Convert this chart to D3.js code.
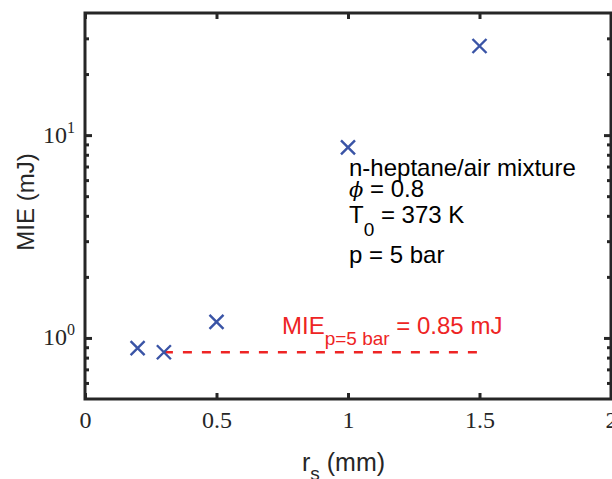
<!DOCTYPE html>
<html>
<head>
<meta charset="utf-8">
<script src="https://cdn.jsdelivr.net/npm/d3@7"></script>
<style>
  body { margin: 0; background: #fff; }
  svg { display: block; }
</style>
</head>
<body>
<svg id="chart" width="612" height="479"></svg>
<script>
// Minimum ignition energy versus source radius
const radii = [0.2, 0.3, 0.5, 1.0, 1.5];
const mieValues = [0.89, 0.85, 1.2, 8.7, 27.5];
const mieReference = 0.85;
const referenceSpan = [0.3, 1.5];

const xTickValues = [0, 0.5, 1, 1.5, 2];
const xTickLabels = ["0", "0.5", "1", "1.5", "2"];
const yMajorTicks = [1, 10];
const yMajorExponents = ["0", "1"];
const yMinorTicks = [0.6, 0.7, 0.8, 0.9, 2, 3, 4, 5, 6, 7, 8, 9, 20, 30];

const svg = d3.select("#chart");
const frame = { left: 85, right: 611, top: 13, bottom: 399 };
const axisColor = "#262626";
const markerColor = "#3a54a6";
const refColor = "#ee2424";
const sans = "'Liberation Sans', Arial, Helvetica, sans-serif";
const serif = "'Liberation Serif', 'Times New Roman', serif";

const x = d3.scaleLinear().domain([0, 2]).range([frame.left, frame.right]);
const y = d3.scaleLog().domain([0.5, 40]).range([frame.bottom, frame.top]);

function styleTicks(g) {
  g.select(".domain").remove();
  g.selectAll(".tick line").attr("stroke", axisColor).attr("stroke-width", 3);
}

// bottom axis with labels
const gBottom = svg.append("g")
  .attr("transform", `translate(0,${frame.bottom})`)
  .call(d3.axisBottom(x).tickValues(xTickValues).tickSizeInner(-6).tickSizeOuter(0)
    .tickFormat((d, i) => xTickLabels[i]))
  .call(styleTicks);
gBottom.selectAll(".tick text")
  .attr("y", 29).attr("dy", null)
  .attr("fill", axisColor)
  .style("font-family", serif).style("font-size", "24px");

// top axis, ticks only
svg.append("g")
  .attr("transform", `translate(0,${frame.top})`)
  .call(d3.axisTop(x).tickValues(xTickValues).tickSizeInner(-6).tickSizeOuter(0).tickFormat(""))
  .call(styleTicks);

// left axis: decades with labels, minor ticks without
const gLeft = svg.append("g")
  .attr("transform", `translate(${frame.left},0)`)
  .call(d3.axisLeft(y).tickValues(yMajorTicks).tickSizeInner(-7).tickSizeOuter(0))
  .call(styleTicks);
gLeft.selectAll(".tick text").each(function (d, i) {
  const t = d3.select(this);
  t.text(null).attr("x", -10).attr("y", 7).attr("dy", null)
    .attr("text-anchor", "end").attr("fill", axisColor)
    .style("font-family", serif).style("font-size", "24px");
  t.append("tspan").text("10");
  t.append("tspan").attr("dy", -10).style("font-size", "16px").text(yMajorExponents[i]);
});
svg.append("g")
  .attr("transform", `translate(${frame.left},0)`)
  .call(d3.axisLeft(y).tickValues(yMinorTicks).tickSizeInner(-4).tickSizeOuter(0).tickFormat(""))
  .call(styleTicks);

// right axis, ticks only
svg.append("g")
  .attr("transform", `translate(${frame.right},0)`)
  .call(d3.axisRight(y).tickValues(yMajorTicks).tickSizeInner(-7).tickSizeOuter(0).tickFormat(""))
  .call(styleTicks);
svg.append("g")
  .attr("transform", `translate(${frame.right},0)`)
  .call(d3.axisRight(y).tickValues(yMinorTicks).tickSizeInner(-4).tickSizeOuter(0).tickFormat(""))
  .call(styleTicks);

// plot frame
svg.append("rect")
  .attr("x", frame.left).attr("y", frame.top)
  .attr("width", frame.right - frame.left).attr("height", frame.bottom - frame.top)
  .attr("fill", "none").attr("stroke", axisColor).attr("stroke-width", 3);

// reference MIE line
svg.append("line")
  .attr("x1", x(referenceSpan[0])).attr("x2", x(referenceSpan[1]))
  .attr("y1", y(mieReference)).attr("y2", y(mieReference))
  .attr("stroke", refColor).attr("stroke-width", 2.3)
  .attr("stroke-dasharray", "9,10");

// data markers
svg.append("g").selectAll("path")
  .data(radii.map((r, i) => [r, mieValues[i]]))
  .join("path")
  .attr("transform", d => `translate(${x(d[0])},${y(d[1])})`)
  .attr("d", "M-7,-7L7,7M-7,7L7,-7")
  .attr("fill", "none").attr("stroke", markerColor).attr("stroke-width", 2.4);

// annotation block
const note = svg.append("g").attr("fill", "#000").style("font-family", sans).style("font-size", "24px");
note.append("text").attr("x", 349).attr("y", 176).text("n-heptane/air mixture");
const phi = note.append("text").attr("x", 349).attr("y", 197);
phi.append("tspan").style("font-family", "'DejaVu Serif', serif").style("font-style", "italic")
  .style("font-size", "21px").text("\u03D5");
phi.append("tspan").text(" = 0.8");
const t0 = note.append("text").attr("x", 349).attr("y", 223);
t0.append("tspan").text("T");
t0.append("tspan").attr("dy", 13).style("font-size", "19px").text("0");
t0.append("tspan").attr("dy", -13).text(" = 373 K");
note.append("text").attr("x", 349).attr("y", 263).text("p = 5 bar");

// reference label
const refLabel = svg.append("text").attr("x", 282).attr("y", 334)
  .attr("fill", refColor).style("font-family", sans).style("font-size", "24px");
refLabel.append("tspan").text("MIE");
refLabel.append("tspan").attr("dy", 11).style("font-size", "19px").text("p=5 bar");
refLabel.append("tspan").attr("dy", -11).text(" = " + mieReference + " mJ");

// axis titles
const xTitle = svg.append("text").attr("x", 302).attr("y", 471)
  .attr("fill", axisColor).style("font-family", sans).style("font-size", "25px");
xTitle.append("tspan").text("r");
xTitle.append("tspan").attr("dy", 9).style("font-size", "19px").text("s");
xTitle.append("tspan").attr("dy", -9).text(" (mm)");

svg.append("text")
  .attr("transform", "translate(34,202) rotate(-90)")
  .attr("text-anchor", "middle").attr("fill", axisColor)
  .style("font-family", sans).style("font-size", "24px")
  .text("MIE (mJ)");
</script>
</body>
</html>
